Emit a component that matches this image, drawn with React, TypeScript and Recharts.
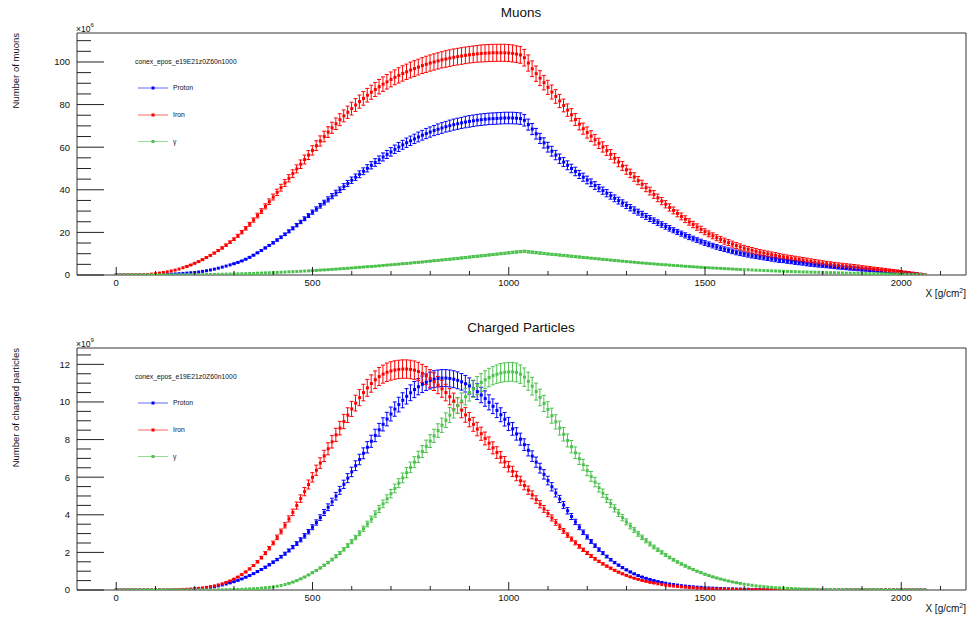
import React from 'react';
import { ComposedChart, Line, Bar, XAxis, YAxis, ReferenceArea } from 'recharts';

// ---------- tick labels / axis ----------
const xTicks = [0, 100, 200, 300, 400, 500, 600, 700, 800, 900, 1000, 1100, 1200, 1300, 1400, 1500, 1600, 1700, 1800, 1900, 2000, 2100];
const xLabelTicks = [0, 500, 1000, 1500, 2000];
const muonYTicks = [0, 5, 10, 15, 20, 25, 30, 35, 40, 45, 50, 55, 60, 65, 70, 75, 80, 85, 90, 95, 100, 105, 110];
const muonYLabelTicks = [0, 20, 40, 60, 80, 100];
const chargedYTicks = [0, 0.5, 1, 1.5, 2, 2.5, 3, 3.5, 4, 4.5, 5, 5.5, 6, 6.5, 7, 7.5, 8, 8.5, 9, 9.5, 10, 10.5, 11, 11.5, 12, 12.5];
const chargedYLabelTicks = [0, 2, 4, 6, 8, 10, 12];
const seriesLabels = ['Proton', 'Iron', 'γ'];
const legendTitle = 'conex_epos_e19E21z0Z60n1000';

// ---------- Muons (x10^6), slant depth 0..2060 g/cm2 in steps of 10 ----------
const muonProton = [
  0,0,0,0,0,0,0,0,0,0.05,
  0.1,0.15,0.2,0.3,0.4,0.5,0.6,0.75,0.9,1.05,
  1.2,1.4,1.7,2.0,2.35,2.75,3.2,3.7,4.2,4.75,
  5.3,5.9,6.6,7.4,8.3,9.3,10.4,11.5,12.7,13.9,
  15.1,16.4,17.7,19.1,20.5,21.9,23.4,24.9,26.4,27.9,
  29.5,31.0,32.5,34.0,35.5,37.0,38.5,40.0,41.5,43.0,
  44.5,45.9,47.3,48.7,50.1,51.5,52.8,54.1,55.4,56.6,
  57.8,59.0,60.1,61.1,62.1,63.0,63.9,64.8,65.6,66.4,
  67.1,67.8,68.4,69.0,69.6,70.1,70.6,71.0,71.4,71.8,
  72.1,72.4,72.7,72.9,73.1,73.3,73.4,73.5,73.6,73.7,
  73.7,73.7,73.6,73.4,72.6,70.6,68.5,66.3,64.1,62.0,
  60.0,58.1,56.3,54.6,53.0,51.5,50.0,48.6,47.2,45.9,
  44.6,43.3,42.0,40.8,39.6,38.4,37.2,36.0,34.9,33.8,
  32.7,31.6,30.5,29.5,28.5,27.5,26.5,25.5,24.6,23.7,
  22.8,21.9,21.0,20.2,19.4,18.6,17.8,17.1,16.4,15.7,
  15.0,14.4,13.8,13.2,12.6,12.1,11.6,11.1,10.6,10.2,
  9.8,9.4,9.0,8.7,8.4,8.1,7.8,7.5,7.2,6.9,
  6.7,6.4,6.2,5.9,5.7,5.5,5.2,5.0,4.8,4.6,
  4.4,4.2,4.0,3.8,3.6,3.5,3.3,3.1,3.0,2.8,
  2.6,2.5,2.3,2.2,2.0,1.9,1.7,1.6,1.4,1.3,
  1.1,1.0,0.8,0.6,0.5,0.3,0.2,
];
const muonProtonErr = [
  0,0,0,0,0,0,0,0,0,0,
  0,0,0,0,0,0,0,0,0,0,
  0,0,0.1,0.1,0.1,0.1,0.1,0.1,0.1,0.1,
  0.2,0.2,0.2,0.2,0.3,0.3,0.3,0.4,0.4,0.4,
  0.5,0.5,0.6,0.6,0.7,0.7,0.8,0.8,0.9,0.9,
  1.0,1.0,1.1,1.1,1.2,1.2,1.3,1.3,1.4,1.4,
  1.5,1.5,1.6,1.6,1.7,1.7,1.8,1.8,1.9,1.9,
  2.0,2.0,2.1,2.1,2.2,2.2,2.2,2.3,2.3,2.4,
  2.4,2.4,2.5,2.5,2.5,2.6,2.6,2.6,2.6,2.7,
  2.7,2.7,2.7,2.7,2.7,2.7,2.7,2.7,2.7,2.7,
  2.7,2.7,2.7,2.7,2.7,2.6,2.6,2.5,2.4,2.4,
  2.3,2.3,2.2,2.2,2.1,2.1,2.0,2.0,1.9,1.9,
  1.8,1.8,1.8,1.7,1.7,1.7,1.6,1.6,1.6,1.5,
  1.5,1.5,1.5,1.4,1.4,1.4,1.4,1.3,1.3,1.3,
  1.3,1.3,1.2,1.2,1.2,1.2,1.2,1.1,1.1,1.1,
  1.1,1.1,1.1,1.1,1.1,1.1,1.1,1.1,1.1,1.1,
  1.0,1.0,1.0,1.0,1.0,1.0,1.0,1.0,1.0,1.0,
  0.9,0.9,0.9,0.9,0.9,0.9,0.9,0.9,0.9,0.9,
  0.8,0.8,0.8,0.8,0.8,0.8,0.8,0.8,0.8,0.8,
  0.7,0.7,0.7,0.7,0.6,0.6,0.6,0.6,0.6,0.5,
  0.5,0.4,0.4,0.3,0.3,0.2,0.1,
];
const muonIron = [
  0,0,0,0,0,0,0.05,0.1,0.2,0.4,
  0.6,0.9,1.2,1.5,1.9,2.3,2.8,3.4,4.0,4.7,
  5.5,6.3,7.2,8.2,9.2,10.3,11.5,12.7,14.0,15.4,
  16.8,18.4,20.1,21.9,23.8,25.8,27.9,30.0,32.2,34.4,
  36.6,38.8,41.0,43.2,45.4,47.6,49.8,52.0,54.2,56.3,
  58.5,60.7,62.9,65.0,67.1,69.1,71.0,72.9,74.7,76.4,
  78.1,79.8,81.4,82.9,84.4,85.8,87.1,88.4,89.6,90.7,
  91.8,92.8,93.7,94.6,95.4,96.2,96.9,97.6,98.3,98.9,
  99.5,100.0,100.5,101.0,101.4,101.8,102.2,102.5,102.8,103.1,
  103.4,103.6,103.8,104.0,104.1,104.2,104.3,104.3,104.3,104.3,
  104.2,104.0,103.7,103.3,102.0,99.5,96.8,94.5,92.4,90.3,
  88.1,85.9,83.8,81.7,79.6,77.4,75.2,73.0,70.8,68.7,
  66.9,65.2,63.5,61.8,60.1,58.4,56.6,54.8,53.0,51.2,
  49.4,47.7,46.0,44.3,42.6,41.0,39.4,37.8,36.2,34.7,
  33.2,31.7,30.3,28.9,27.5,26.2,24.9,23.7,22.5,21.4,
  20.3,19.3,18.4,17.5,16.7,15.9,15.2,14.5,13.8,13.2,
  12.6,12.1,11.6,11.1,10.7,10.3,9.9,9.5,9.2,8.8,
  8.5,8.2,7.9,7.6,7.3,7.0,6.7,6.4,6.1,5.8,
  5.6,5.3,5.1,4.8,4.6,4.4,4.2,4.0,3.8,3.6,
  3.4,3.2,3.0,2.8,2.6,2.4,2.2,2.0,1.8,1.6,
  1.4,1.2,1.0,0.8,0.6,0.4,0.2,
];
const muonIronErr = [
  0,0,0,0,0,0,0,0,0,0,
  0,0,0,0.1,0.1,0.1,0.1,0.1,0.2,0.2,
  0.2,0.2,0.3,0.3,0.3,0.4,0.4,0.5,0.5,0.6,
  0.6,0.7,0.8,0.8,0.9,1.0,1.1,1.1,1.2,1.3,
  1.4,1.5,1.6,1.6,1.7,1.8,1.9,2.0,2.1,2.1,
  2.2,2.3,2.4,2.5,2.5,2.6,2.7,2.8,2.8,2.9,
  3.0,3.0,3.1,3.2,3.2,3.3,3.3,3.4,3.4,3.4,
  3.5,3.5,3.6,3.6,3.6,3.7,3.7,3.7,3.7,3.8,
  3.8,3.8,3.8,3.8,3.9,3.9,3.9,3.9,3.9,3.9,
  3.9,3.9,3.9,4.0,4.0,4.0,4.0,4.0,4.0,4.0,
  4.0,4.0,3.9,3.9,3.9,3.8,3.7,3.6,3.5,3.4,
  3.3,3.3,3.2,3.1,3.0,2.9,2.9,2.8,2.7,2.6,
  2.6,2.5,2.5,2.4,2.4,2.3,2.3,2.2,2.2,2.1,
  2.1,2.0,2.0,1.9,1.9,1.9,1.8,1.8,1.8,1.7,
  1.7,1.7,1.6,1.6,1.6,1.6,1.5,1.5,1.5,1.5,
  1.4,1.4,1.4,1.4,1.4,1.4,1.4,1.4,1.4,1.4,
  1.3,1.3,1.3,1.3,1.3,1.3,1.3,1.3,1.3,1.3,
  1.2,1.2,1.2,1.2,1.2,1.2,1.2,1.2,1.2,1.2,
  1.1,1.1,1.1,1.1,1.1,1.1,1.1,1.1,1.1,1.1,
  1.0,1.0,1.0,0.9,0.9,0.9,0.9,0.8,0.8,0.8,
  0.7,0.6,0.6,0.5,0.4,0.3,0.2,
];
const muonGamma = [
  0,0,0,0,0,0,0,0,0,0,
  0,0,0,0,0,0.05,0.05,0.05,0.1,0.1,
  0.1,0.15,0.15,0.2,0.2,0.25,0.3,0.35,0.4,0.45,
  0.5,0.55,0.6,0.65,0.7,0.75,0.85,0.9,1.0,1.05,
  1.1,1.2,1.3,1.4,1.5,1.55,1.65,1.75,1.85,1.95,
  2.05,2.15,2.3,2.4,2.5,2.65,2.75,2.9,3.0,3.15,
  3.3,3.45,3.6,3.75,3.9,4.0,4.15,4.3,4.5,4.65,
  4.8,4.95,5.1,5.3,5.45,5.6,5.8,5.95,6.1,6.3,
  6.5,6.7,6.85,7.05,7.25,7.4,7.6,7.8,8.0,8.2,
  8.4,8.6,8.8,9.0,9.2,9.4,9.6,9.8,10.0,10.2,
  10.4,10.6,10.8,11.0,11.1,10.9,10.7,10.5,10.3,10.1,
  9.9,9.7,9.55,9.35,9.2,9.0,8.8,8.6,8.45,8.25,
  8.1,7.9,7.7,7.55,7.35,7.2,7.0,6.85,6.65,6.5,
  6.3,6.15,6.0,5.8,5.65,5.5,5.35,5.2,5.05,4.9,
  4.8,4.65,4.5,4.4,4.25,4.1,4.0,3.85,3.75,3.6,
  3.5,3.4,3.3,3.2,3.1,3.0,2.9,2.8,2.7,2.6,
  2.5,2.45,2.35,2.25,2.2,2.1,2.05,1.95,1.9,1.8,
  1.75,1.7,1.6,1.55,1.5,1.45,1.4,1.35,1.3,1.25,
  1.2,1.15,1.1,1.05,1.0,0.95,0.9,0.85,0.8,0.8,
  0.75,0.7,0.65,0.6,0.55,0.55,0.5,0.45,0.4,0.4,
  0.35,0.3,0.3,0.25,0.2,0.2,0.15,
];
const muonGammaErr = [
  0,0,0,0,0,0,0,0,0,0,
  0,0,0,0,0,0,0,0,0,0,
  0,0,0,0,0,0,0,0,0,0,
  0.1,0.1,0.1,0.1,0.1,0.1,0.1,0.1,0.1,0.1,
  0.1,0.1,0.1,0.1,0.1,0.1,0.1,0.1,0.1,0.1,
  0.2,0.2,0.2,0.2,0.2,0.2,0.2,0.2,0.2,0.2,
  0.2,0.2,0.2,0.2,0.2,0.2,0.2,0.2,0.2,0.2,
  0.2,0.2,0.2,0.3,0.3,0.3,0.3,0.3,0.3,0.3,
  0.3,0.3,0.3,0.3,0.4,0.4,0.4,0.4,0.4,0.4,
  0.4,0.4,0.4,0.4,0.4,0.4,0.4,0.4,0.4,0.4,
  0.5,0.5,0.5,0.5,0.5,0.5,0.5,0.5,0.5,0.5,
  0.4,0.4,0.4,0.4,0.4,0.4,0.4,0.4,0.4,0.4,
  0.3,0.3,0.3,0.3,0.3,0.3,0.3,0.3,0.3,0.3,
  0.2,0.2,0.2,0.2,0.2,0.2,0.2,0.2,0.2,0.2,
  0.2,0.2,0.2,0.2,0.2,0.2,0.2,0.2,0.2,0.2,
  0.2,0.2,0.2,0.2,0.2,0.2,0.2,0.2,0.2,0.2,
  0.1,0.1,0.1,0.1,0.1,0.1,0.1,0.1,0.1,0.1,
  0.1,0.1,0.1,0.1,0.1,0.1,0.1,0.1,0.1,0.1,
  0.1,0.1,0.1,0.1,0.1,0.1,0.1,0.1,0.1,0.1,
  0.1,0.1,0.1,0.1,0.1,0.1,0.1,0.1,0.1,0.1,
  0.1,0.1,0.1,0.1,0.1,0.1,0.1,
];

// ---------- Charged particles (x10^9) ----------
const chargedProton = [
  0,0,0,0,0,0,0,0,0,0,
  0,0,0,0,0,0,0,0.01,0.02,0.03,
  0.05,0.06,0.08,0.11,0.14,0.18,0.22,0.27,0.32,0.38,
  0.44,0.51,0.59,0.68,0.77,0.87,0.98,1.09,1.21,1.34,
  1.48,1.62,1.77,1.93,2.10,2.28,2.47,2.67,2.88,3.10,
  3.34,3.59,3.85,4.12,4.40,4.69,4.99,5.30,5.62,5.95,
  6.28,6.61,6.94,7.27,7.59,7.91,8.22,8.52,8.81,9.09,
  9.36,9.62,9.86,10.09,10.30,10.49,10.66,10.81,10.94,11.05,
  11.14,11.21,11.25,11.27,11.27,11.25,11.21,11.15,11.07,10.97,
  10.85,10.71,10.55,10.37,10.18,9.98,9.77,9.55,9.32,9.08,
  8.83,8.57,8.30,8.02,7.73,7.43,7.12,6.80,6.48,6.15,
  5.82,5.49,5.16,4.84,4.52,4.21,3.91,3.62,3.34,3.07,
  2.82,2.58,2.36,2.15,1.96,1.78,1.61,1.46,1.32,1.19,
  1.07,0.96,0.86,0.77,0.69,0.62,0.56,0.50,0.45,0.40,
  0.36,0.32,0.29,0.26,0.23,0.21,0.19,0.17,0.15,0.14,
  0.12,0.11,0.10,0.09,0.08,0.07,0.06,0.06,0.05,0.05,
  0.04,0.04,0.03,0.03,0.03,0.02,0.02,0.02,0.02,0.02,
  0.01,0.01,0.01,0.01,0.01,0.01,0.01,0.01,0.01,0.01,
  0.01,0.01,0.01,0,0,0,0,0,0,0,
  0,0,0,0,0,0,0,0,0,0,
  0,0,0,0,0,0,0,
];
const chargedProtonErr = [
  0,0,0,0,0,0,0,0,0,0,
  0,0,0,0,0,0,0,0,0,0,
  0,0,0,0,0.01,0.01,0.01,0.01,0.01,0.02,
  0.02,0.02,0.02,0.03,0.03,0.03,0.04,0.04,0.05,0.05,
  0.06,0.06,0.07,0.08,0.08,0.09,0.10,0.11,0.12,0.12,
  0.13,0.14,0.15,0.16,0.18,0.19,0.20,0.21,0.22,0.24,
  0.25,0.26,0.28,0.29,0.30,0.32,0.33,0.34,0.35,0.36,
  0.37,0.38,0.39,0.40,0.41,0.42,0.43,0.43,0.44,0.44,
  0.45,0.45,0.45,0.45,0.45,0.45,0.45,0.45,0.44,0.44,
  0.43,0.43,0.42,0.41,0.41,0.40,0.39,0.38,0.37,0.36,
  0.35,0.34,0.33,0.32,0.31,0.30,0.28,0.27,0.26,0.25,
  0.23,0.22,0.21,0.19,0.18,0.17,0.16,0.14,0.13,0.12,
  0.11,0.10,0.09,0.09,0.08,0.07,0.06,0.06,0.05,0.05,
  0.04,0.04,0.03,0.03,0.03,0.02,0.02,0.02,0.02,0.02,
  0.01,0.01,0.01,0.01,0.01,0.01,0.01,0.01,0.01,0.01,
  0,0,0,0,0,0,0,0,0,0,
  0,0,0,0,0,0,0,0,0,0,
  0,0,0,0,0,0,0,0,0,0,
  0,0,0,0,0,0,0,0,0,0,
  0,0,0,0,0,0,0,0,0,0,
  0,0,0,0,0,0,0,
];
const chargedIron = [
  0,0,0,0,0,0,0,0,0,0,
  0,0,0,0,0,0.01,0.02,0.03,0.04,0.05,
  0.07,0.09,0.11,0.14,0.18,0.22,0.27,0.33,0.40,0.48,
  0.58,0.69,0.82,0.96,1.12,1.30,1.50,1.72,1.96,2.22,
  2.50,2.80,3.11,3.44,3.78,4.13,4.49,4.86,5.23,5.61,
  5.99,6.37,6.75,7.13,7.51,7.88,8.25,8.61,8.96,9.30,
  9.63,9.94,10.23,10.50,10.75,10.98,11.18,11.35,11.48,11.58,
  11.65,11.70,11.73,11.75,11.75,11.73,11.69,11.62,11.52,11.40,
  11.25,11.08,10.90,10.70,10.50,10.28,10.05,9.81,9.56,9.31,
  9.06,8.81,8.56,8.31,8.06,7.81,7.56,7.31,7.06,6.81,
  6.56,6.31,6.06,5.81,5.56,5.31,5.06,4.81,4.56,4.31,
  4.07,3.83,3.59,3.36,3.14,2.92,2.71,2.51,2.32,2.14,
  1.97,1.81,1.66,1.52,1.39,1.27,1.16,1.05,0.95,0.86,
  0.78,0.70,0.63,0.57,0.51,0.46,0.41,0.37,0.33,0.29,
  0.26,0.23,0.21,0.19,0.17,0.15,0.13,0.12,0.10,0.09,
  0.08,0.07,0.06,0.06,0.05,0.05,0.04,0.04,0.03,0.03,
  0.03,0.03,0.02,0.02,0.02,0.02,0.02,0.02,0.02,0.02,
  0.01,0.01,0.01,0.01,0.01,0.01,0.01,0.01,0.01,0.01,
  0.01,0.01,0.01,0.01,0.01,0,0,0,0,0,
  0,0,0,0,0,0,0,0,0,0,
  0,0,0,0,0,0,0,
];
const chargedIronErr = [
  0,0,0,0,0,0,0,0,0,0,
  0,0,0,0,0,0,0,0,0,0,
  0,0,0,0.01,0.01,0.01,0.01,0.01,0.02,0.02,
  0.02,0.03,0.03,0.04,0.05,0.05,0.06,0.07,0.08,0.09,
  0.10,0.12,0.13,0.14,0.16,0.17,0.19,0.20,0.22,0.24,
  0.25,0.27,0.28,0.30,0.32,0.33,0.35,0.36,0.38,0.39,
  0.40,0.42,0.43,0.44,0.45,0.46,0.47,0.48,0.48,0.49,
  0.49,0.49,0.49,0.49,0.49,0.49,0.49,0.49,0.48,0.48,
  0.47,0.47,0.46,0.45,0.44,0.43,0.42,0.41,0.40,0.39,
  0.38,0.37,0.36,0.35,0.34,0.33,0.32,0.31,0.30,0.29,
  0.28,0.27,0.25,0.24,0.23,0.22,0.21,0.20,0.19,0.18,
  0.17,0.16,0.15,0.14,0.13,0.12,0.11,0.11,0.10,0.09,
  0.08,0.08,0.07,0.06,0.06,0.05,0.05,0.04,0.04,0.04,
  0.03,0.03,0.03,0.02,0.02,0.02,0.02,0.02,0.01,0.01,
  0.01,0.01,0.01,0.01,0.01,0.01,0.01,0.01,0.01,0.01,
  0,0,0,0,0,0,0,0,0,0,
  0,0,0,0,0,0,0,0,0,0,
  0,0,0,0,0,0,0,0,0,0,
  0,0,0,0,0,0,0,0,0,0,
  0,0,0,0,0,0,0,0,0,0,
  0,0,0,0,0,0,0,
];
const chargedGamma = [
  0,0,0,0,0,0,0,0,0,0,
  0,0,0,0,0,0,0,0,0,0,
  0,0,0,0,0,0.01,0.01,0.01,0.02,0.02,
  0.03,0.03,0.04,0.05,0.06,0.07,0.08,0.10,0.12,0.14,
  0.17,0.20,0.24,0.29,0.35,0.42,0.50,0.59,0.69,0.80,
  0.92,1.04,1.17,1.31,1.46,1.62,1.79,1.97,2.16,2.36,
  2.57,2.79,3.02,3.26,3.51,3.77,4.04,4.31,4.58,4.85,
  5.12,5.40,5.68,5.96,6.24,6.52,6.80,7.08,7.36,7.64,
  7.92,8.20,8.48,8.76,9.03,9.30,9.56,9.81,10.05,10.28,
  10.50,10.70,10.88,11.04,11.18,11.30,11.40,11.48,11.54,11.58,
  11.60,11.60,11.57,11.48,11.32,11.10,10.84,10.55,10.24,9.92,
  9.60,9.27,8.94,8.61,8.28,7.95,7.62,7.30,6.98,6.66,
  6.35,6.04,5.74,5.44,5.15,4.87,4.60,4.34,4.09,3.85,
  3.62,3.40,3.19,2.99,2.80,2.62,2.45,2.29,2.14,2.00,
  1.86,1.73,1.61,1.49,1.38,1.28,1.18,1.09,1.00,0.92,
  0.84,0.77,0.70,0.64,0.58,0.53,0.48,0.43,0.39,0.35,
  0.31,0.28,0.25,0.22,0.20,0.18,0.16,0.14,0.12,0.11,
  0.10,0.09,0.08,0.07,0.06,0.05,0.05,0.04,0.04,0.03,
  0.03,0.03,0.02,0.02,0.02,0.02,0.01,0.01,0.01,0.01,
  0.01,0.01,0.01,0.01,0.01,0,0,0,0,0,
  0,0,0,0,0,0,0,
];
const chargedGammaErr = [
  0,0,0,0,0,0,0,0,0,0,
  0,0,0,0,0,0,0,0,0,0,
  0,0,0,0,0,0,0,0,0,0,
  0,0,0,0,0,0,0,0,0.01,0.01,
  0.01,0.01,0.01,0.01,0.02,0.02,0.02,0.03,0.03,0.03,
  0.04,0.04,0.05,0.06,0.06,0.07,0.08,0.08,0.09,0.10,
  0.11,0.12,0.13,0.14,0.15,0.16,0.17,0.19,0.20,0.21,
  0.22,0.23,0.24,0.26,0.27,0.28,0.29,0.30,0.32,0.33,
  0.34,0.35,0.36,0.38,0.39,0.40,0.41,0.42,0.43,0.44,
  0.45,0.46,0.47,0.47,0.48,0.49,0.49,0.49,0.50,0.50,
  0.50,0.50,0.50,0.49,0.49,0.48,0.47,0.45,0.44,0.43,
  0.41,0.40,0.38,0.37,0.36,0.34,0.33,0.31,0.30,0.29,
  0.27,0.26,0.25,0.23,0.22,0.21,0.20,0.19,0.18,0.17,
  0.16,0.15,0.14,0.13,0.12,0.11,0.11,0.10,0.09,0.09,
  0.08,0.07,0.07,0.06,0.06,0.06,0.05,0.05,0.04,0.04,
  0.04,0.03,0.03,0.03,0.02,0.02,0.02,0.02,0.02,0.02,
  0.01,0.01,0.01,0.01,0.01,0.01,0.01,0.01,0.01,0.01,
  0,0,0,0,0,0,0,0,0,0,
  0,0,0,0,0,0,0,0,0,0,
  0,0,0,0,0,0,0,0,0,0,
  0,0,0,0,0,0,0,
];

const depthStep = 10;
const depths = muonProton.map((_, i) => i * depthStep);

const buildRows = (p: number[], pe: number[], f: number[], fe: number[], g: number[], ge: number[]) =>
  depths.map((x, i) => ({
    x,
    p: p[i], pr: [p[i] - pe[i], p[i] + pe[i]],
    f: f[i], fr: [f[i] - fe[i], f[i] + fe[i]],
    g: g[i], gr: [g[i] - ge[i], g[i] + ge[i]],
  }));

const muonData = buildRows(muonProton, muonProtonErr, muonIron, muonIronErr, muonGamma, muonGammaErr);
const chargedData = buildRows(chargedProton, chargedProtonErr, chargedIron, chargedIronErr, chargedGamma, chargedGammaErr);

// ---------- styling ----------
const FONT = '"Liberation Sans", Arial, Helvetica, sans-serif';
const BLUE = '#0000ff';
const RED = '#ff0000';
const GREEN = '#4ec24e';
const COLORS = [BLUE, RED, GREEN];
const X_DOMAIN: [number, number] = [-100, 2165];

const renderXTick = (props: any) => {
  const { x, y, payload } = props;
  const v = payload.value;
  const major = xLabelTicks.includes(v);
  return (
    <g key={`xt${v}`}>
      <line x1={x} x2={x} y1={y} y2={y - (major ? 8 : 4)} stroke="#222" strokeWidth={1} />
      {major && (
        <text x={x} y={y + 10.5} textAnchor="middle" fontSize={9.5} fontFamily={FONT} fill="#111">
          {v}
        </text>
      )}
    </g>
  );
};

const makeYTick = (labels: number[]) => (props: any) => {
  const { x, y, payload } = props;
  const v = payload.value;
  const major = labels.includes(v);
  return (
    <g key={`yt${v}`}>
      <line x1={x} x2={x + (major ? 27 : 14)} y1={y} y2={y} stroke="#222" strokeWidth={1} />
      {major && (
        <text x={x - 7} y={y + 3.4} textAnchor="end" fontSize={9.5} fontFamily={FONT} fill="#111">
          {v}
        </text>
      )}
    </g>
  );
};

const makeDot = (color: string) => (props: any) => {
  const { cx, cy, index } = props;
  if (cx == null || cy == null || Number.isNaN(cx) || Number.isNaN(cy)) return <g key={`d${index}`} />;
  return <rect key={`d${index}`} x={cx - 1.5} y={cy - 1.5} width={3} height={3} fill={color} />;
};

// error bar drawn from a ranged bar [low, high] positioned by the library
const makeErrShape = (color: string) => (props: any) => {
  const { x, y, width, height, index } = props;
  if ([x, y, width, height].some((v) => v == null || Number.isNaN(v))) return <g key={`e${index}`} />;
  const top = Math.min(y, y + height);
  const bot = Math.max(y, y + height);
  if (bot - top < 0.5) return <g key={`e${index}`} />;
  const mid = x + width / 2;
  return (
    <g key={`e${index}`} stroke={color} strokeWidth={1} fill="none">
      <line x1={mid} x2={mid} y1={top} y2={bot} />
      <line x1={mid - 2} x2={mid + 2} y1={top} y2={top} />
      <line x1={mid - 2} x2={mid + 2} y1={bot} y2={bot} />
    </g>
  );
};

type PanelProps = {
  data: any[];
  yMax: number;
  yTicks: number[];
  yLabels: number[];
  top: number;
};

const seriesKeys = [
  ['p', 'pr'],
  ['f', 'fr'],
  ['g', 'gr'],
];

function Panel({ data, yMax, yTicks, yLabels, top }: PanelProps) {
  return (
    <div style={{ position: 'absolute', left: 0, top, width: 969, height: 310 }}>
      <ComposedChart width={969} height={310} data={data} margin={{ top: 33, right: 3, bottom: 5, left: 0 }}>
        <XAxis
          dataKey="x"
          type="number"
          domain={X_DOMAIN}
          allowDataOverflow
          ticks={xTicks}
          interval={0}
          height={30}
          tickSize={0}
          tickMargin={0}
          axisLine={false}
          tickLine={false}
          tick={renderXTick}
        />
        {seriesKeys.map(([k]) => (
          <XAxis key={`ax${k}`} xAxisId={`e${k}`} dataKey="x" type="number" domain={X_DOMAIN} allowDataOverflow hide />
        ))}
        <YAxis
          type="number"
          domain={[0, yMax]}
          allowDataOverflow
          ticks={yTicks}
          interval={0}
          width={77}
          tickSize={0}
          tickMargin={0}
          axisLine={false}
          tickLine={false}
          tick={makeYTick(yLabels)}
        />
        <ReferenceArea
          x1={X_DOMAIN[0]}
          x2={X_DOMAIN[1]}
          y1={0}
          y2={yMax}
          fill="none"
          fillOpacity={0}
          stroke="#333"
          strokeWidth={1}
          ifOverflow="visible"
        />
        {seriesKeys.map(([k, rk], i) => (
          <Bar
            key={`bar${k}`}
            xAxisId={`e${k}`}
            dataKey={rk}
            barSize={4}
            shape={makeErrShape(COLORS[i])}
            legendType="none"
            isAnimationActive={false}
          />
        ))}
        {seriesKeys.map(([k], i) => (
          <Line
            key={`line${k}`}
            dataKey={k}
            stroke="none"
            dot={makeDot(COLORS[i])}
            activeDot={false}
            legendType="none"
            isAnimationActive={false}
          />
        ))}
      </ComposedChart>
    </div>
  );
}

function PanelText({ dy, title, yTitle, exp }: { dy: number; title: string; yTitle: string; exp: string }) {
  const rows = [88, 115, 141.5];
  return (
    <g fontFamily={FONT} fill="#111">
      <text x={521} y={dy + 17} textAnchor="middle" fontSize={13.5}>
        {title}
      </text>
      <text transform={`translate(18.5, ${dy + 33}) rotate(-90)`} textAnchor="end" fontSize={9.5}>
        {yTitle}
      </text>
      <text x={76} y={dy + 31.5} fontSize={8.5}>
        ×10<tspan dy={-4.5} fontSize={6}>{exp}</tspan>
      </text>
      <text x={966} y={dy + 297} textAnchor="end" fontSize={10}>
        X [g/cm<tspan dy={-4} fontSize={7}>2</tspan>
        <tspan dy={4}>]</tspan>
      </text>
      <text x={135} y={dy + 64.4} fontSize={6.8}>
        {legendTitle}
      </text>
      {seriesLabels.map((lab, i) => (
        <g key={lab}>
          <line x1={138} x2={168} y1={dy + rows[i]} y2={dy + rows[i]} stroke={COLORS[i]} strokeWidth={1} strokeOpacity={0.6} />
          <rect x={151.5} y={dy + rows[i] - 1.5} width={3} height={3} fill={COLORS[i]} />
          <text x={173} y={dy + rows[i] + 2.4} fontSize={6.8}>
            {lab}
          </text>
        </g>
      ))}
    </g>
  );
}

export default function App() {
  return (
    <div style={{ position: 'absolute', left: 0, top: 0, width: 969, height: 619, background: '#fff', overflow: 'hidden' }}>
      <Panel data={muonData} yMax={113.6} yTicks={muonYTicks} yLabels={muonYLabelTicks} top={0} />
      <Panel data={chargedData} yMax={12.87} yTicks={chargedYTicks} yLabels={chargedYLabelTicks} top={315} />
      <svg width={969} height={619} style={{ position: 'absolute', left: 0, top: 0, pointerEvents: 'none' }}>
        <PanelText dy={0} title="Muons" yTitle="Number of muons" exp="6" />
        <PanelText dy={315} title="Charged Particles" yTitle="Number of charged particles" exp="9" />
      </svg>
    </div>
  );
}
